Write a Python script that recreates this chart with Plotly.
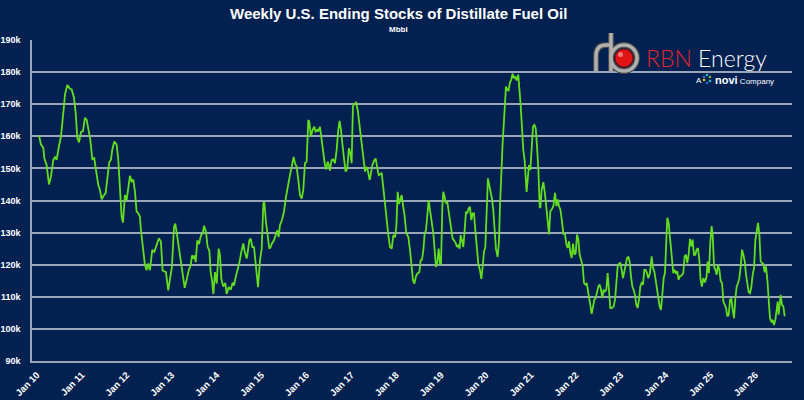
import pandas as pd
import plotly.graph_objects as go

# --- data: decimal year -> ending stocks (thousand Mbbl) ---
years = [
    2010.000, 2010.045, 2010.097, 2010.119, 2010.171, 2010.223, 2010.267, 2010.319, 2010.356, 2010.393,
    2010.445, 2010.490, 2010.542, 2010.579, 2010.631, 2010.690, 2010.728, 2010.780, 2010.817, 2010.854,
    2010.891, 2010.935, 2010.980, 2011.024, 2011.062, 2011.099, 2011.143, 2011.188, 2011.232, 2011.269,
    2011.321, 2011.359, 2011.396, 2011.440, 2011.485, 2011.529, 2011.566, 2011.604, 2011.633, 2011.678,
    2011.730, 2011.767, 2011.804, 2011.841, 2011.871, 2011.915, 2011.952, 2011.990, 2012.027, 2012.064,
    2012.101, 2012.138, 2012.175, 2012.212, 2012.249, 2012.272, 2012.324, 2012.361, 2012.398, 2012.435,
    2012.472, 2012.524, 2012.569, 2012.621, 2012.673, 2012.717, 2012.754, 2012.791, 2012.829, 2012.880,
    2012.932, 2012.962, 2013.007, 2013.036, 2013.081, 2013.126, 2013.170, 2013.215, 2013.244, 2013.289,
    2013.333, 2013.378, 2013.408, 2013.437, 2013.467, 2013.489, 2013.526, 2013.563, 2013.608, 2013.645,
    2013.675, 2013.719, 2013.756, 2013.793, 2013.823, 2013.853, 2013.883, 2013.920, 2013.957, 2014.002,
    2014.031, 2014.061, 2014.105, 2014.150, 2014.180, 2014.224, 2014.269, 2014.313, 2014.343, 2014.380,
    2014.417, 2014.462, 2014.506, 2014.551, 2014.581, 2014.626, 2014.655, 2014.685, 2014.715, 2014.752,
    2014.789, 2014.833, 2014.878, 2014.923, 2014.960, 2014.997, 2015.019, 2015.056, 2015.086, 2015.130,
    2015.160, 2015.189, 2015.234, 2015.278, 2015.308, 2015.338, 2015.367, 2015.412, 2015.457, 2015.501,
    2015.546, 2015.590, 2015.627, 2015.672, 2015.702, 2015.739, 2015.776, 2015.813, 2015.850, 2015.887,
    2015.924, 2015.961, 2015.999, 2016.021, 2016.058, 2016.095, 2016.132, 2016.162, 2016.199, 2016.221,
    2016.258, 2016.296, 2016.333, 2016.370, 2016.399, 2016.429, 2016.459, 2016.481, 2016.518, 2016.555,
    2016.592, 2016.630, 2016.667, 2016.696, 2016.726, 2016.756, 2016.785, 2016.830, 2016.867, 2016.904,
    2016.942, 2016.964, 2016.993, 2017.023, 2017.060, 2017.097, 2017.127, 2017.157, 2017.186, 2017.223,
    2017.261, 2017.290, 2017.320, 2017.365, 2017.394, 2017.424, 2017.461, 2017.498, 2017.528, 2017.565,
    2017.602, 2017.632, 2017.669, 2017.706, 2017.743, 2017.780, 2017.817, 2017.854, 2017.892, 2017.929,
    2017.958, 2017.988, 2018.018, 2018.048, 2018.077, 2018.107, 2018.137, 2018.181, 2018.226, 2018.263,
    2018.300, 2018.330, 2018.360, 2018.396, 2018.426, 2018.471, 2018.500, 2018.530, 2018.560, 2018.589,
    2018.619, 2018.656, 2018.679, 2018.708, 2018.745, 2018.783, 2018.812, 2018.842, 2018.872, 2018.901,
    2018.931, 2018.953, 2018.983, 2019.005, 2019.035, 2019.065, 2019.094, 2019.124, 2019.154, 2019.183,
    2019.213, 2019.243, 2019.280, 2019.310, 2019.339, 2019.369, 2019.391, 2019.421, 2019.451, 2019.481,
    2019.510, 2019.540, 2019.570, 2019.599, 2019.629, 2019.659, 2019.688, 2019.718, 2019.748, 2019.785,
    2019.822, 2019.852, 2019.881, 2019.911, 2019.941, 2019.970, 2020.000, 2020.030, 2020.059, 2020.089,
    2020.119, 2020.148, 2020.178, 2020.215, 2020.245, 2020.267, 2020.297, 2020.327, 2020.356, 2020.379,
    2020.401, 2020.431, 2020.460, 2020.490, 2020.520, 2020.549, 2020.579, 2020.609, 2020.638, 2020.675,
    2020.698, 2020.728, 2020.757, 2020.787, 2020.817, 2020.839, 2020.861, 2020.891, 2020.913, 2020.943,
    2020.973, 2021.002, 2021.032, 2021.062, 2021.091, 2021.121, 2021.151, 2021.166, 2021.195, 2021.232,
    2021.269, 2021.307, 2021.336, 2021.359, 2021.388, 2021.418, 2021.455, 2021.492, 2021.522, 2021.552,
    2021.581, 2021.611, 2021.641, 2021.678, 2021.715, 2021.745, 2021.774, 2021.804, 2021.834, 2021.863,
    2021.893, 2021.923, 2021.952, 2021.982, 2022.012, 2022.041, 2022.071, 2022.108, 2022.138, 2022.168,
    2022.198, 2022.235, 2022.272, 2022.309, 2022.339, 2022.368, 2022.398, 2022.428, 2022.457, 2022.487,
    2022.517, 2022.546, 2022.576, 2022.606, 2022.635, 2022.665, 2022.695, 2022.724, 2022.754, 2022.799,
    2022.829, 2022.858, 2022.888, 2022.918, 2022.947, 2022.977, 2023.007, 2023.037, 2023.066, 2023.096,
    2023.126, 2023.155, 2023.185, 2023.215, 2023.244, 2023.274, 2023.304, 2023.333, 2023.363, 2023.393,
    2023.422, 2023.452, 2023.482, 2023.511, 2023.541, 2023.571, 2023.608, 2023.645, 2023.675, 2023.705,
    2023.734, 2023.764, 2023.794, 2023.823, 2023.853, 2023.883, 2023.913, 2023.942, 2023.964, 2023.994,
    2024.024, 2024.053, 2024.090, 2024.128, 2024.157, 2024.187, 2024.217, 2024.246, 2024.276, 2024.313,
    2024.350, 2024.380, 2024.410, 2024.439, 2024.469, 2024.499, 2024.529, 2024.558, 2024.588, 2024.618,
    2024.647, 2024.677, 2024.707, 2024.736, 2024.766, 2024.796, 2024.833, 2024.870, 2024.892, 2024.922,
    2024.952, 2024.981, 2025.004, 2025.033, 2025.063, 2025.093, 2025.122, 2025.152, 2025.182, 2025.212,
    2025.241, 2025.271, 2025.301, 2025.330, 2025.360, 2025.390, 2025.419, 2025.449, 2025.479, 2025.508,
    2025.538, 2025.568, 2025.597, 2025.627, 2025.657, 2025.686, 2025.716, 2025.746, 2025.776, 2025.805,
    2025.835, 2025.865, 2025.894, 2025.924, 2025.954, 2025.983, 2026.013, 2026.043, 2026.072, 2026.102,
    2026.132, 2026.161, 2026.191, 2026.221, 2026.250, 2026.280, 2026.310, 2026.339, 2026.369, 2026.399,
    2026.428, 2026.451, 2026.473, 2026.495, 2026.518, 2026.547, 2026.577, 2026.607,
]

stocks_k = [
    160.3, 157.4, 156.4, 153.2, 151.0, 145.0, 147.5, 152.7, 153.5, 152.7,
    156.9, 160.0, 167.3, 173.0, 176.0, 174.8, 174.6, 172.0, 167.3, 159.5,
    158.1, 161.3, 161.6, 165.7, 165.2, 162.6, 159.0, 152.9, 153.2, 149.6,
    144.9, 143.3, 140.4, 141.5, 142.3, 147.5, 151.9, 152.7, 155.8, 158.4,
    157.4, 152.7, 143.9, 135.0, 133.1, 141.7, 140.0, 144.4, 147.7, 146.0,
    146.5, 142.9, 136.6, 136.0, 135.0, 130.8, 123.5, 119.9, 118.3, 120.4,
    118.3, 124.6, 124.0, 126.1, 128.2, 127.2, 118.2, 117.9, 117.7, 112.0,
    117.7, 119.3, 131.8, 132.8, 128.6, 124.0, 120.3, 115.1, 112.8, 115.3,
    118.2, 119.8, 122.9, 121.9, 122.9, 120.8, 127.6, 126.4, 129.2, 129.7,
    132.1, 130.2, 125.5, 124.5, 117.7, 115.1, 110.9, 117.7, 114.1, 125.0,
    122.9, 115.6, 113.2, 114.3, 110.9, 113.0, 112.2, 114.4, 113.5, 116.1,
    118.2, 120.5, 124.0, 126.6, 124.0, 121.9, 124.5, 127.6, 128.1, 125.5,
    125.5, 120.3, 113.0, 121.4, 125.0, 139.1, 139.6, 133.3, 130.2, 125.0,
    125.5, 126.6, 127.6, 129.2, 130.7, 128.6, 132.3, 133.9, 136.5, 141.1,
    145.3, 147.9, 150.3, 153.6, 151.6, 150.5, 146.4, 141.7, 140.6, 143.2,
    151.6, 152.1, 165.1, 164.6, 159.9, 162.0, 163.0, 161.5, 162.0, 161.5,
    163.0, 158.3, 155.7, 151.0, 149.7, 152.1, 151.0, 149.3, 152.6, 152.8,
    151.6, 155.7, 162.0, 164.8, 162.0, 156.8, 154.2, 149.0, 150.0, 156.3,
    154.2, 151.6, 169.3, 170.1, 170.5, 168.2, 164.6, 161.5, 157.3, 152.6,
    149.0, 150.5, 149.5, 146.4, 148.4, 151.0, 152.3, 153.1, 150.5, 147.9,
    148.2, 148.6, 143.8, 138.5, 134.4, 129.2, 125.5, 125.0, 129.2, 128.6,
    131.8, 142.7, 138.9, 140.1, 141.7, 138.5, 135.9, 129.7, 128.6, 124.5,
    118.2, 115.1, 114.1, 116.4, 117.2, 117.7, 121.4, 121.6, 124.5, 129.7,
    130.7, 138.0, 140.1, 137.0, 132.8, 129.7, 124.5, 119.3, 120.8, 125.0,
    120.3, 120.1, 138.0, 142.7, 141.1, 139.1, 139.6, 136.5, 134.9, 131.8,
    128.1, 127.6, 126.8, 125.5, 126.0, 125.0, 129.2, 127.6, 125.5, 130.7,
    136.5, 136.0, 137.5, 138.0, 133.9, 136.0, 136.0, 130.7, 125.0, 120.3,
    118.2, 115.6, 119.3, 124.0, 125.5, 134.9, 146.9, 144.8, 143.2, 140.6,
    137.0, 130.7, 125.0, 122.4, 127.1, 138.0, 150.5, 157.8, 164.6, 172.4,
    175.5, 174.5, 174.3, 176.8, 177.6, 179.5, 178.1, 178.6, 177.4, 179.2,
    176.0, 169.8, 163.0, 155.7, 152.6, 145.8, 142.7, 147.4, 151.0, 149.5,
    156.3, 163.0, 163.5, 162.5, 156.8, 149.5, 138.0, 137.7, 143.4, 145.7,
    141.9, 135.6, 132.5, 129.4, 136.7, 137.2, 138.2, 142.4, 138.2, 140.3,
    138.2, 137.2, 134.1, 129.6, 129.4, 126.3, 125.2, 127.3, 123.6, 122.1,
    126.6, 123.1, 123.6, 129.4, 127.8, 123.1, 121.6, 119.5, 114.3, 113.8,
    114.3, 111.7, 108.0, 104.7, 106.5, 109.1, 109.6, 111.7, 113.2, 113.8,
    112.2, 109.6, 112.2, 111.7, 112.2, 117.4, 112.2, 106.5, 106.5, 107.0,
    109.1, 114.3, 119.5, 120.3, 120.5, 118.4, 115.8, 117.9, 120.5, 122.1,
    122.4, 121.0, 116.4, 113.2, 112.2, 110.6, 107.5, 106.5, 109.1, 113.2,
    114.3, 113.8, 118.4, 118.4, 117.4, 115.8, 117.4, 122.6, 119.0, 117.9,
    115.3, 112.7, 110.6, 107.0, 105.9, 111.7, 115.8, 117.5, 127.8, 134.6,
    133.0, 127.8, 121.6, 117.4, 118.4, 117.4, 117.9, 115.3, 116.4, 116.6,
    117.4, 122.6, 123.1, 120.5, 123.1, 128.0, 125.7, 127.8, 123.1, 123.1,
    124.7, 125.2, 121.6, 115.3, 113.2, 115.8, 114.5, 116.4, 121.0, 117.4,
    126.8, 132.0, 128.9, 119.5, 118.4, 116.9, 120.0, 118.4, 114.8, 114.3,
    108.5, 107.5, 106.5, 103.9, 104.4, 109.1, 109.3, 105.9, 103.3, 109.6,
    113.2, 114.3, 115.8, 119.5, 124.7, 123.1, 121.0, 116.9, 113.2, 111.4,
    111.1, 113.2, 116.9, 119.0, 127.8, 130.9, 133.0, 129.4, 121.0, 120.5,
    120.3, 117.6, 119.5, 115.3, 109.1, 103.3, 102.3, 102.8, 101.2, 102.8,
    105.9, 108.5, 104.4, 109.1, 110.6, 107.5, 107.0, 103.9,
]

y_ticks = [90, 100, 110, 120, 130, 140, 150, 160, 170, 180, 190]

TITLE = "Weekly U.S. Ending Stocks of Distillate Fuel Oil"
SUBTITLE = "Mbbl"

BG = "#022050"
GRID = "#9aa5ba"
GREEN = "#63de1f"


def to_date(y):
    yr = int(y)
    return pd.Timestamp(yr, 1, 1) + pd.Timedelta(days=(y - yr) * 365.25)


dates = [to_date(y) for y in years]

# margins in px, used to place the logo shapes
L, R, T, B = 32, 12, 40, 39
W, H = 804 - L - R, 400 - T - B


def px(x):
    return (x - L) / W


def py(y):
    return (400 - B - y) / H


fig = go.Figure()
fig.add_trace(go.Scatter(x=dates, y=stocks_k, mode="lines",
                         line=dict(color=GREEN, width=1.8), name="Distillate"))

# --- logo (pipe + ball + text) ---
shapes = []
pipe_r = f"M {px(596)} {py(71)} L {px(596)} {py(56)} Q {px(596)} {py(45)} {px(606)} {py(45)} L {px(611)} {py(45)}"
pipe_stem = f"M {px(611)} {py(33)} L {px(611)} {py(71)}"
for col, w in (("#4a4a4a", 6), ("#b0b0b0", 3.5)):
    shapes.append(dict(type="path", path=pipe_r, xref="paper", yref="paper",
                       line=dict(color=col, width=w)))
    shapes.append(dict(type="path", path=pipe_stem, xref="paper", yref="paper",
                       line=dict(color=col, width=w)))
    shapes.append(dict(type="circle", xref="paper", yref="paper",
                       x0=px(611), x1=px(637), y0=py(71), y1=py(45),
                       line=dict(color=col, width=w)))
shapes.append(dict(type="circle", xref="paper", yref="paper",
                   x0=px(615), x1=px(633), y0=py(67), y1=py(49),
                   fillcolor="#e01414", line=dict(color="#8a0808", width=1)))
shapes.append(dict(type="circle", xref="paper", yref="paper",
                   x0=px(618), x1=px(623), y0=py(57), y1=py(52),
                   fillcolor="rgba(255,200,200,0.55)", line=dict(width=0)))
# little novi dot cluster
dot_cols = ["#2f6fd6", "#2bb3c9", "#7cc242", "#f2c21a", "#2f6fd6", "#2bb3c9"]
dot_pos = [(704, 77), (707, 75), (710, 77), (704, 80), (707, 83), (710, 81)]
for (dx, dy), c in zip(dot_pos, dot_cols):
    shapes.append(dict(type="circle", xref="paper", yref="paper",
                       x0=px(dx - 1.3), x1=px(dx + 1.3), y0=py(dy + 1.3), y1=py(dy - 1.3),
                       fillcolor=c, line=dict(width=0)))

annotations = [
    dict(text=f"<b>{TITLE}</b>", x=px(398), xref="paper", y=py(14), yref="paper",
         xanchor="center", yanchor="middle", showarrow=False,
         font=dict(family="Liberation Sans Narrow, Arial", size=15, color="white")),
    dict(text=f"<b>{SUBTITLE}</b>", x=px(398), xref="paper", y=py(29), yref="paper",
         xanchor="center", yanchor="middle", showarrow=False,
         font=dict(family="Liberation Sans Narrow, Arial", size=8, color="white")),
    dict(text="<span style='color:#e3262b'>RBN</span> Energy", x=px(644), xref="paper",
         y=py(58), yref="paper", xanchor="left", yanchor="middle", showarrow=False,
         font=dict(family="Lato", size=23, color="white", weight=300)),
    dict(text="A", x=px(699), xref="paper", y=py(80), yref="paper",
         xanchor="center", yanchor="middle", showarrow=False,
         font=dict(family="Arial", size=8, color="white")),
    dict(text="<b><span style='font-size:11px'>novi</span></b> Company", x=px(713), xref="paper",
         y=py(80), yref="paper", xanchor="left", yanchor="middle", showarrow=False,
         font=dict(family="Arial", size=8, color="white")),
]

fig.update_layout(
    width=804, height=400,
    paper_bgcolor=BG, plot_bgcolor=BG,
    margin=dict(l=L, r=R, t=T, b=B),
    showlegend=False,
    shapes=shapes,
    annotations=annotations,
    font=dict(family="Arial", color="white"),
)
fig.update_xaxes(
    range=[to_date(2009.844), to_date(2026.77)],
    tick0="2010-01-01", dtick="M12", tickformat="%b %y", tickangle=-45,
    tickfont=dict(family="Arial", size=9.5, color="white", weight="bold"),
    showgrid=False, showline=True, linecolor=GRID, linewidth=1.5,
    ticks="outside", ticklen=3, tickcolor=BG, ticklabelshift=-2,
    automargin=False,
)
fig.update_yaxes(
    range=[90, 190], tickvals=y_ticks, ticktext=[f"{v}k" for v in y_ticks],
    tickfont=dict(family="Arial", size=9, color="white", weight="bold"),
    showgrid=True, gridcolor=GRID, gridwidth=1.5,
    showline=True, linecolor=GRID, linewidth=1.5,
    ticks="outside", ticklen=8, tickcolor=BG, zeroline=False,
    automargin=False,
)

# the page body has a default 8px margin; drop it so the figure sits at the corner
fig.write_html("out.html", config={"displayModeBar": False},
               post_script="document.body.style.margin='0';"
                           f"document.body.style.background='{BG}';")
